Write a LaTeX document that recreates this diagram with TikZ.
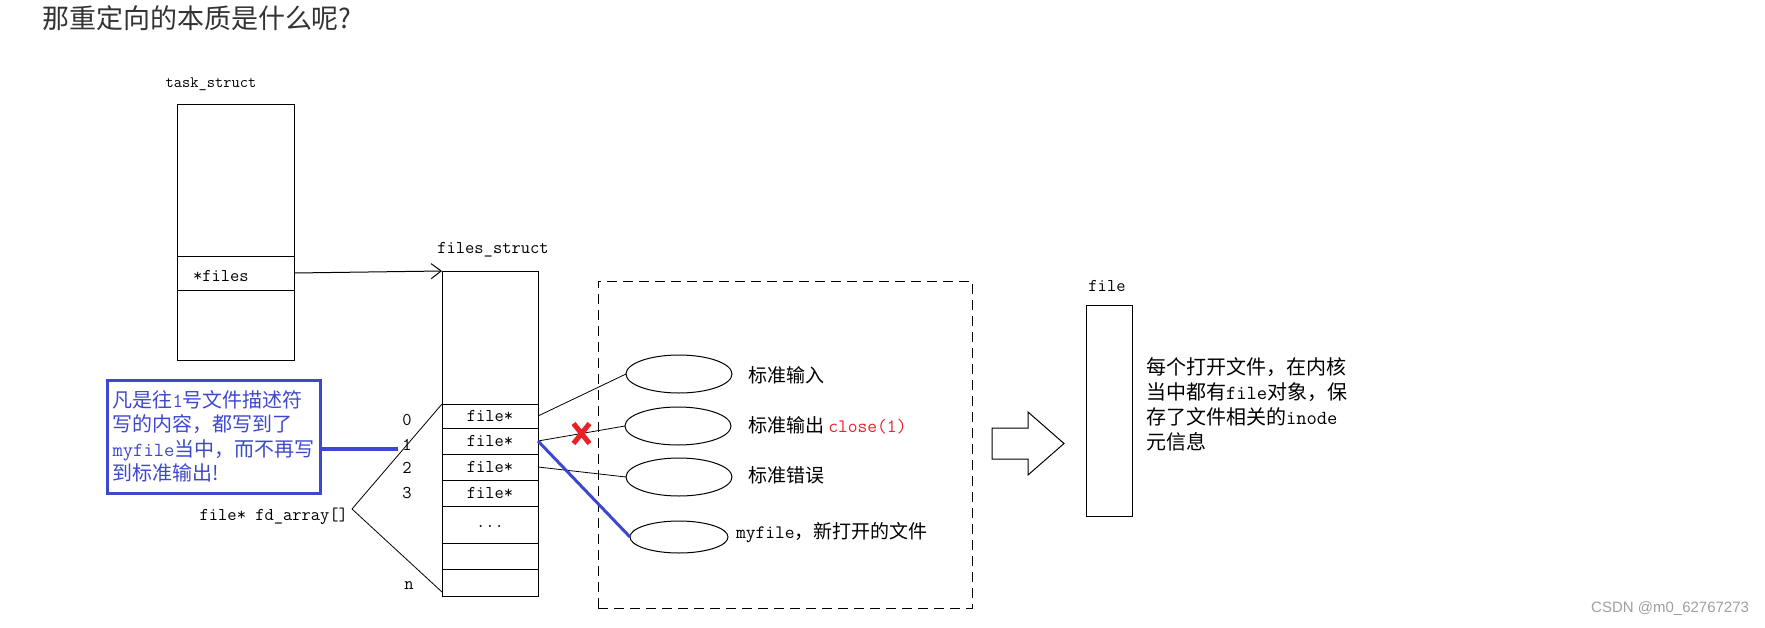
\documentclass[tikz,border=0pt]{standalone}
\usepackage{fontspec}
\newfontfamily\cjk{Noto Sans CJK SC}
\newfontfamily\wmfont{Liberation Sans}
\usepackage{tikz}
\usetikzlibrary{calc}
\usetikzlibrary{shapes.geometric}
\usetikzlibrary{arrows.meta}

\definecolor{noteblue}{RGB}{62,72,206}
\definecolor{titlegray}{RGB}{51,51,51}
\definecolor{markred}{RGB}{232,32,40}

\begin{document}
\begin{tikzpicture}[x=1pt, y=-1pt, line width=1pt, >={Straight Barb[length=10pt,width=15pt]},
    every node/.style={inner sep=0pt, outer sep=0pt},
    code/.style={font=\fontsize{18}{20}\selectfont\ttfamily},
    cell/.style={draw, minimum width=96pt, code},
    cn/.style={font=\fontsize{19}{24}\selectfont\cjk},
    slot/.style={draw, ellipse, minimum width=106pt, minimum height=38pt}]

\useasboundingbox (0,0) rectangle (1765,627);

% --- TITLE ---
\node[anchor=west, text=titlegray, font=\fontsize{27}{30}\selectfont\cjk] (title) at (42,18) {那重定向的本质是什么呢?};

% --- task_struct ---
\node[code, font=\fontsize{16}{18}\selectfont\ttfamily] (Tlbl) at (211,84) {task\_struct};
\node[draw, minimum width=117pt, minimum height=152pt] (Ttop) at (235.5,180) {};
\node[draw, minimum width=117pt, minimum height=34pt, anchor=north] (Tfiles) at (Ttop.south) {};
\node[draw, minimum width=117pt, minimum height=70pt, anchor=north] (Tbot) at (Tfiles.south) {};
\node[code, anchor=west] (TfilesLbl) at (193,276) {*files};

% --- files_struct (fd_array) ---
\node[code] (Flbl) at (493,250) {files\_struct};
\node[draw, minimum width=96pt, minimum height=133pt] (Ftop) at (490,337.5) {};
\node[cell, minimum height=24pt, anchor=north] (F0) at (Ftop.south) {file*};
\node[cell, minimum height=26pt, anchor=north] (F1) at (F0.south) {file*};
\node[cell, minimum height=26pt, anchor=north] (F2) at (F1.south) {file*};
\node[cell, minimum height=26pt, anchor=north] (F3) at (F2.south) {file*};
\node[cell, minimum height=37pt, anchor=north] (Fdots) at (F3.south) {\raisebox{-5pt}{...}};
\node[cell, minimum height=26pt, anchor=north] (Fe1) at (Fdots.south) {};
\node[cell, minimum height=27pt, anchor=north] (Fe2) at (Fe1.south) {};

\draw[->] (Tfiles.east) -- (Ftop.north west);

% Indices
\node[code] (I0) at (407,420) {0};
\node[code] (I1) at (407,445) {1};
\node[code] (I2) at (407,468) {2};
\node[code] (I3) at (407,493) {3};
\node[code] (In) at (409,586) {n};

\node[code, anchor=east] (fdarr) at (348,516) {file* fd\_array[]};
\coordinate (fdtip) at (352,509);
\draw[line width=0.8pt] (fdtip) -- (F0.north west);
\draw[line width=0.8pt] (fdtip) -- ($(Fe2.south west)+(0,-4)$);

% --- NOTE ---
\node[draw=noteblue, line width=3pt, minimum width=213pt, minimum height=113pt,
      text=noteblue, align=left, font=\fontsize{20}{24.5}\selectfont\cjk]
      (note) at (213.5,436.5)
      {凡是往{\ttfamily 1}号文件描述符\\写的内容，都写到了\\{\ttfamily myfile}当中，而不再写\\到标准输出!};
\coordinate (noteend) at (398,449);
\draw[noteblue, line width=4pt] (note.east |- noteend) -- (noteend);

% --- OPEN FILES ---
\node[draw, dash pattern=on 10pt off 6pt, minimum width=374pt, minimum height=327pt] (Fgroup) at (785,444.5) {};

\node[slot] (Sin) at (679,374) {};
\node[slot] (Sout) at (678,426) {};
\node[slot] (Serr) at (679,477) {};
\node[slot, minimum width=98pt, minimum height=32pt] (Smy) at (679,537) {};

\node[cn, anchor=west] (Lin) at (748,375) {标准输入};
\node[cn, anchor=west] (Lout) at (748,425) {标准输出 {\ttfamily\color{markred}close(1)}};
\node[cn, anchor=west] (Lerr) at (748,475) {标准错误};
\node[cn, anchor=west] (Lmy) at (736,533) {{\ttfamily myfile}，新打开的文件};

\draw[line width=0.8pt] (F0.east) -- (Sin.west);
\draw[line width=0.8pt] (F1.east) -- (Sout.west);
\draw[line width=0.8pt] (F2.east) -- (Serr.west);
\draw[noteblue, line width=3pt] (F1.east) -- (Smy.west);

% Closed stdout
\coordinate (cut) at ($(F1.east)!0.5!(Sout.west)$);
\draw[markred, line width=5pt] ($(cut)+(-8,-10)$) -- ($(cut)+(8,10)$)
    ($(cut)+(8,-10)$) -- ($(cut)+(-8,10)$);

% --- FILE OBJECT ---
\draw (992,428) -- (1028,428) -- (1028,412) -- (1064,443.5) -- (1028,475)
    -- (1028,459) -- (992,459) -- cycle;

\node[code] (Olbl) at (1107,286) {file};
\node[draw, minimum width=46pt, minimum height=211pt] (Fobj) at (1109,410.5) {};
\node[anchor=west, align=left, font=\fontsize{20}{25}\selectfont\cjk] (desc) at (1146,404.5)
    {每个打开文件，在内核\\当中都有{\ttfamily file}对象，保\\存了文件相关的{\ttfamily inode}\\元信息};

\node[anchor=east, text=gray!75, font=\fontsize{15}{18}\selectfont\wmfont] (wm) at (1749,609) {CSDN @m0\_62767273};

\end{tikzpicture}
\end{document}
